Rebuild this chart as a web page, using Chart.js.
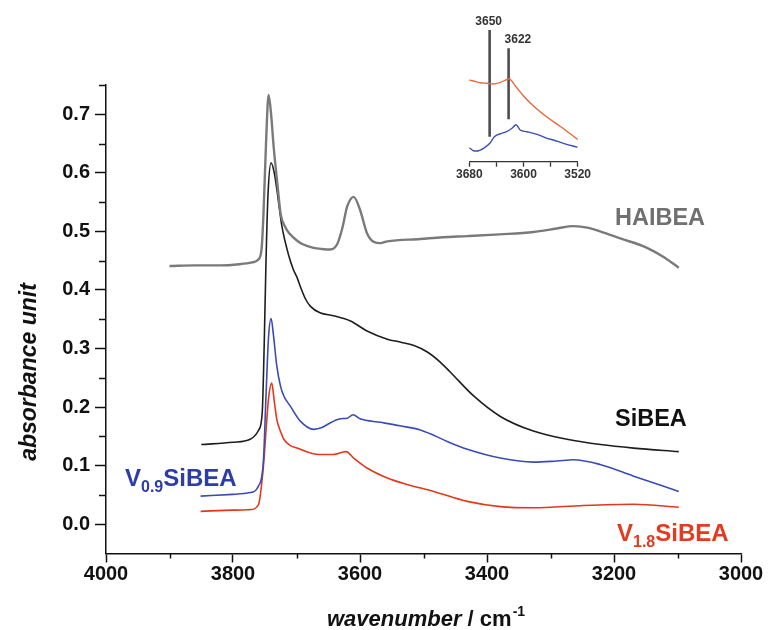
<!DOCTYPE html>
<html><head><meta charset="utf-8">
<script src="https://cdn.jsdelivr.net/npm/chart.js@4/dist/chart.umd.min.js"></script>
<style>
html,body{margin:0;padding:0;background:#fff;}
#wrap{position:relative;width:773px;height:630px;overflow:hidden;}
#main{position:absolute;left:0;top:0;}
#inset{position:absolute;left:440px;top:0;}
</style></head><body>
<div id="wrap"><canvas id="main" width="773" height="630"></canvas><canvas id="inset" width="160" height="190"></canvas></div>
<script>
// ---------- data (main) ----------
const xTicks = [4000, 3800, 3600, 3400, 3200, 3000];
const xMinorTicks = [3900, 3700, 3500, 3300, 3100];
const yTicks = [0.0, 0.1, 0.2, 0.3, 0.4, 0.5, 0.6, 0.7];
const yMinorTicks = [0.05, 0.15, 0.25, 0.35, 0.45, 0.55, 0.65, 0.75];

const wnHAIBEA = [3900,3860,3820,3790,3770,3760,3755,3752,3748,3744,3740,3736,3730,3725,3718,3710,3700,3690,3673,3660,3647,3636,3628,3620,3610,3600,3589,3578,3568,3557,3505,3470,3431,3380,3327,3290,3264,3240,3222,3190,3148,3120,3098];
const absHAIBEA = [0.441,0.442,0.442,0.444,0.447,0.452,0.47,0.53,0.65,0.733,0.70,0.645,0.58,0.53,0.508,0.495,0.485,0.478,0.472,0.47,0.469,0.478,0.505,0.543,0.559,0.537,0.497,0.482,0.48,0.483,0.487,0.49,0.492,0.495,0.499,0.505,0.509,0.506,0.500,0.488,0.472,0.455,0.438];

const wnSiBEA = [3850,3800,3773,3760,3754,3751,3748,3745,3740,3735,3731,3723,3712,3705,3699,3694,3686,3678,3663,3642,3615,3589,3557,3537,3515,3494,3475,3458,3421,3379,3327,3274,3221,3169,3098];
const absSiBEA = [0.136,0.14,0.145,0.16,0.19,0.30,0.45,0.56,0.617,0.60,0.572,0.509,0.458,0.435,0.421,0.406,0.385,0.372,0.361,0.356,0.347,0.33,0.316,0.311,0.305,0.294,0.278,0.26,0.219,0.184,0.159,0.145,0.136,0.13,0.124];

const wnV09 = [3851,3800,3773,3760,3752,3748,3744,3740,3736,3731,3725,3720,3710,3694,3673,3660,3652,3631,3620,3611,3600,3568,3537,3505,3484,3460,3431,3379,3327,3290,3264,3222,3169,3098];
const absV09 = [0.048,0.051,0.054,0.065,0.11,0.22,0.32,0.351,0.32,0.27,0.235,0.219,0.202,0.176,0.162,0.165,0.17,0.18,0.181,0.187,0.18,0.174,0.168,0.161,0.152,0.14,0.128,0.113,0.106,0.108,0.110,0.102,0.082,0.056];

const wnV18 = [3851,3800,3773,3760,3752,3748,3744,3739,3735,3731,3725,3720,3694,3663,3642,3622,3610,3589,3557,3526,3484,3431,3379,3327,3248,3169,3098];
const absV18 = [0.022,0.024,0.025,0.033,0.10,0.16,0.215,0.241,0.21,0.179,0.158,0.145,0.128,0.119,0.119,0.124,0.113,0.096,0.079,0.068,0.056,0.039,0.03,0.028,0.032,0.034,0.029];

// ---------- data (inset, arbitrary units) ----------
const insetXTicks = [3680, 3640, 3600, 3560, 3520];
const insetXLabels = [3680, 3600, 3520];
const wnInsetOrange = [3680,3674,3664,3654,3645,3635,3621,3612,3599,3584,3565,3545,3519];
const valInsetOrange = [81.7,80.7,79,78.4,77.7,79,82.7,75.7,65,55,44.4,35,21.7];
const wnInsetBlue = [3680,3674,3669,3659,3649,3643,3632,3625,3617,3611,3605,3595,3580,3565,3556,3541,3520];
const valInsetBlue = [14,11,10.7,13.4,19,25,28.4,30,33.4,37,31.7,30,27.4,23.4,21.7,18.4,14.4];
const markerWn = [3650, 3622];
const markerLow = [25, 42.4];
const markerHigh = [131.7, 113.4];

// ---------- helpers ----------
const FONT = '"Liberation Sans", Arial, Helvetica, sans-serif';
Chart.defaults.font.family = FONT;
const pts = (xs, ys) => xs.map((x, i) => ({x: x, y: ys[i]}));

function line(data, color, width) {
  return {data: data, borderColor: color, borderWidth: width, pointRadius: 0,
          fill: false, tension: 0, cubicInterpolationMode: 'monotone'};
}

// ---------- main chart ----------
const mainPlugin = {
  id: 'mainDecor',
  afterDraw(chart) {
    const ctx = chart.ctx, xs = chart.scales.x, ys = chart.scales.y;
    ctx.save();
    ctx.strokeStyle = '#111'; ctx.lineWidth = 1.5;
    xMinorTicks.forEach(v => {
      const px = Math.round(xs.getPixelForValue(v)) + 0.5;
      ctx.beginPath(); ctx.moveTo(px, xs.top); ctx.lineTo(px, xs.top + 5); ctx.stroke();
    });
    yMinorTicks.forEach(v => {
      const py = Math.round(ys.getPixelForValue(v)) + 0.5;
      ctx.beginPath(); ctx.moveTo(ys.right - 7, py); ctx.lineTo(ys.right, py); ctx.stroke();
    });
    // axis titles
    ctx.fillStyle = '#111';
    ctx.textBaseline = 'alphabetic';
    ctx.textAlign = 'left';
    let x0 = 327, base = 626;
    ctx.font = 'italic bold 22px ' + FONT;
    ctx.fillText('wavenumber', x0, base);
    x0 += ctx.measureText('wavenumber').width;
    ctx.font = 'bold 22px ' + FONT;
    ctx.fillText(' / cm', x0, base);
    x0 += ctx.measureText(' / cm').width;
    ctx.font = 'bold 14px ' + FONT;
    ctx.fillText('-1', x0 + 1, base - 10);

    ctx.save();
    ctx.translate(36, 372);
    ctx.rotate(-Math.PI / 2);
    ctx.textAlign = 'center';
    ctx.font = 'italic bold 23px ' + FONT;
    ctx.fillText('absorbance unit', 0, 0);
    ctx.restore();

    // series labels
    function label(parts, x, b, color) {
      ctx.fillStyle = color;
      let cx = x;
      parts.forEach(p => {
        ctx.font = 'bold ' + p.size + 'px ' + FONT;
        ctx.fillText(p.t, cx, b + (p.dy || 0));
        cx += ctx.measureText(p.t).width;
      });
    }
    label([{t: 'HAIBEA', size: 23.5}], 615, 225, '#707070');
    label([{t: 'SiBEA', size: 23.5}], 615, 426, '#111111');
    label([{t: 'V', size: 24}, {t: '0.9', size: 16, dy: 6}, {t: 'SiBEA', size: 24}], 125, 486, '#2c3ca8');
    label([{t: 'V', size: 24}, {t: '1.8', size: 16, dy: 6}, {t: 'SiBEA', size: 24}], 617, 541, '#e23b1f');
    ctx.restore();
  }
};

new Chart(document.getElementById('main'), {
  type: 'line',
  data: {datasets: [
    line(pts(wnHAIBEA, absHAIBEA), '#7a7a7a', 2.4),
    line(pts(wnSiBEA, absSiBEA), '#1e1e1e', 1.6),
    line(pts(wnV09, absV09), '#3a4cb4', 1.6),
    line(pts(wnV18, absV18), '#e2391c', 1.6)
  ]},
  options: {
    responsive: false, animation: false, devicePixelRatio: 1,
    layout: {padding: {left: 0, right: 32, top: 85, bottom: 0}},
    plugins: {legend: {display: false}, tooltip: {enabled: false}},
    scales: {
      x: {
        type: 'linear', reverse: true, min: 3000, max: 4000,
        afterBuildTicks(s) { s.ticks = xTicks.map(v => ({value: v})); },
        afterFit(s) { s.height = 76.5; },
        border: {display: true, color: '#111', width: 1.5},
        grid: {display: true, drawOnChartArea: false, drawTicks: true, tickLength: 9, tickColor: '#111', tickWidth: 1.5},
        ticks: {color: '#111', font: {size: 20, weight: 'bold'}, padding: 0, maxRotation: 0, autoSkip: false,
                callback: v => String(v)}
      },
      y: {
        type: 'linear', min: -0.05, max: 0.75,
        afterBuildTicks(s) { s.ticks = yTicks.map(v => ({value: v})); },
        afterFit(s) { s.width = 106; },
        border: {display: true, color: '#111', width: 1.5},
        grid: {display: true, drawOnChartArea: false, drawTicks: true, tickLength: 11, tickColor: '#111', tickWidth: 1.5},
        ticks: {color: '#111', font: {size: 20, weight: 'bold'}, padding: 5, callback: v => v.toFixed(1)}
      }
    }
  },
  plugins: [mainPlugin]
});

// ---------- inset chart ----------
const insetPlugin = {
  id: 'insetDecor',
  afterDraw(chart) {
    const ctx = chart.ctx, xs = chart.scales.x, ys = chart.scales.y;
    ctx.save();
    ctx.fillStyle = '#333';
    ctx.font = 'bold 12px ' + FONT;
    ctx.textBaseline = 'alphabetic';
    const p0 = xs.getPixelForValue(markerWn[0]), t0 = ys.getPixelForValue(markerHigh[0]);
    ctx.textAlign = 'center';
    ctx.fillText(String(markerWn[0]), p0 - 1, t0 - 5);
    const p1 = xs.getPixelForValue(markerWn[1]), t1 = ys.getPixelForValue(markerHigh[1]);
    ctx.textAlign = 'left';
    ctx.fillText(String(markerWn[1]), p1 - 4, t1 - 5);
    ctx.restore();
  }
};

new Chart(document.getElementById('inset'), {
  type: 'line',
  data: {datasets: [
    line(pts(wnInsetOrange, valInsetOrange), '#e8683a', 1.4),
    line(pts(wnInsetBlue, valInsetBlue), '#3d4fb5', 1.4),
    {data: [{x: markerWn[0], y: markerLow[0]}, {x: markerWn[0], y: markerHigh[0]}], borderColor: '#4d4d4d', borderWidth: 2.6, pointRadius: 0},
    {data: [{x: markerWn[1], y: markerLow[1]}, {x: markerWn[1], y: markerHigh[1]}], borderColor: '#4d4d4d', borderWidth: 2.6, pointRadius: 0}
  ]},
  options: {
    responsive: false, animation: false, devicePixelRatio: 1,
    layout: {padding: {left: 29.3, right: 22.3, top: 21.7, bottom: 0}},
    plugins: {legend: {display: false}, tooltip: {enabled: false}},
    scales: {
      x: {
        type: 'linear', reverse: true, min: 3520, max: 3680,
        afterBuildTicks(s) { s.ticks = insetXTicks.map(v => ({value: v})); },
        afterFit(s) { s.height = 28.3; },
        border: {display: true, color: '#333', width: 1.3},
        grid: {display: true, drawOnChartArea: false, drawTicks: true, tickLength: 5, tickColor: '#333', tickWidth: 1.3},
        ticks: {color: '#333', font: {size: 12, weight: 'bold'}, padding: 1, maxRotation: 0, autoSkip: false,
                callback: v => insetXLabels.includes(v) ? String(v) : ''}
      },
      y: {type: 'linear', min: 0, max: 140, display: false}
    }
  },
  plugins: [insetPlugin]
});
</script>
</body></html>
